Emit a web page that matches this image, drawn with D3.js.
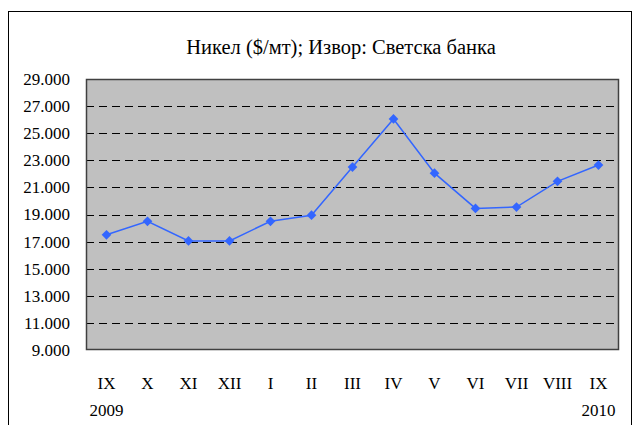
<!DOCTYPE html>
<html>
<head>
<meta charset="utf-8">
<script src="https://cdn.jsdelivr.net/npm/d3@7"></script>
<style>
  body { margin: 0; background: #fff; }
  svg text { font-family: "Liberation Serif", serif; fill: #000; }
</style>
</head>
<body>
<div id="chart"></div>
<script>
// Nickel price, $/t, World Bank
const months = ['IX', 'X', 'XI', 'XII', 'I', 'II', 'III', 'IV', 'V', 'VI', 'VII', 'VIII', 'IX'];
const prices = [17500, 18500, 17050, 17050, 18500, 18950, 22500, 26050, 22050, 19450, 19550, 21450, 22650];
const yearLabels = [{ index: 0, text: '2009' }, { index: 12, text: '2010' }];
const yTicks = d3.range(9000, 29001, 2000);
const title = 'Никел ($/мт); Извор: Светска банка';

const width = 635, height = 425;
const plot = { left: 86, top: 79, right: 619, bottom: 350 };
const fontFamily = '"Liberation Serif", serif';

const svg = d3.select('#chart').append('svg')
  .attr('width', width)
  .attr('height', height);

// outer chart border
svg.append('rect')
  .attr('x', 8.5).attr('y', 11.5)
  .attr('width', 623).attr('height', 430)
  .attr('fill', '#fff')
  .attr('stroke', '#000')
  .attr('stroke-width', 1);

const data = months.map((m, i) => ({ key: i, label: m, value: prices[i] }));

const x = d3.scaleBand()
  .domain(data.map(d => d.key))
  .range([plot.left, plot.right]);

const y = d3.scaleLinear()
  .domain([9000, 29000])
  .range([plot.bottom, plot.top]);

// plot background
svg.append('rect')
  .attr('x', plot.left).attr('y', plot.top)
  .attr('width', plot.right - plot.left)
  .attr('height', plot.bottom - plot.top)
  .attr('fill', '#c0c0c0');

// dashed gridlines
svg.append('g')
  .selectAll('line')
  .data(yTicks.slice(1))
  .join('line')
  .attr('x1', plot.left)
  .attr('x2', plot.right)
  .attr('y1', d => Math.round(y(d)) + 0.5)
  .attr('y2', d => Math.round(y(d)) + 0.5)
  .attr('stroke', '#000')
  .attr('stroke-width', 1)
  .attr('stroke-dasharray', '8,5');

// plot border
svg.append('rect')
  .attr('x', plot.left + 0.5).attr('y', plot.top + 0.5)
  .attr('width', plot.right - plot.left - 1)
  .attr('height', plot.bottom - plot.top - 1)
  .attr('fill', 'none')
  .attr('stroke', '#404040')
  .attr('stroke-width', 1.5);

// y axis labels
const yAxis = d3.axisLeft(y)
  .tickValues(yTicks)
  .tickSize(0)
  .tickPadding(16)
  .tickFormat(d => d3.format(',')(d).replace(',', '.'));

svg.append('g')
  .attr('transform', `translate(${plot.left},0)`)
  .call(yAxis)
  .call(g => g.select('.domain').remove())
  .call(g => g.selectAll('text')
    .style('font-family', fontFamily)
    .style('font-size', '17px')
    .attr('fill', '#000'));

// x axis labels
const xAxis = d3.axisBottom(x)
  .tickSize(0)
  .tickPadding(27)
  .tickFormat(k => months[k]);

svg.append('g')
  .attr('transform', `translate(0,${plot.bottom})`)
  .call(xAxis)
  .call(g => g.select('.domain').remove())
  .call(g => g.selectAll('text')
    .style('font-family', fontFamily)
    .style('font-size', '17px')
    .attr('fill', '#000'));

// year labels
svg.append('g')
  .selectAll('text')
  .data(yearLabels)
  .join('text')
  .attr('x', d => x(d.index) + x.bandwidth() / 2)
  .attr('y', 416)
  .attr('text-anchor', 'middle')
  .style('font-size', '17px')
  .text(d => d.text);

// line
const line = d3.line()
  .x(d => x(d.key) + x.bandwidth() / 2)
  .y(d => y(d.value));

svg.append('path')
  .datum(data)
  .attr('d', line)
  .attr('fill', 'none')
  .attr('stroke', '#3366ff')
  .attr('stroke-width', 1.5);

// diamond markers
svg.append('g')
  .selectAll('path')
  .data(data)
  .join('path')
  .attr('transform', d => `translate(${x(d.key) + x.bandwidth() / 2},${y(d.value)})`)
  .attr('d', d3.symbol(d3.symbolDiamond2, 60))
  .attr('fill', '#3366ff');

// title
svg.append('text')
  .attr('x', 341)
  .attr('y', 54)
  .attr('text-anchor', 'middle')
  .style('font-size', '20.5px')
  .text(title);
</script>
</body>
</html>
